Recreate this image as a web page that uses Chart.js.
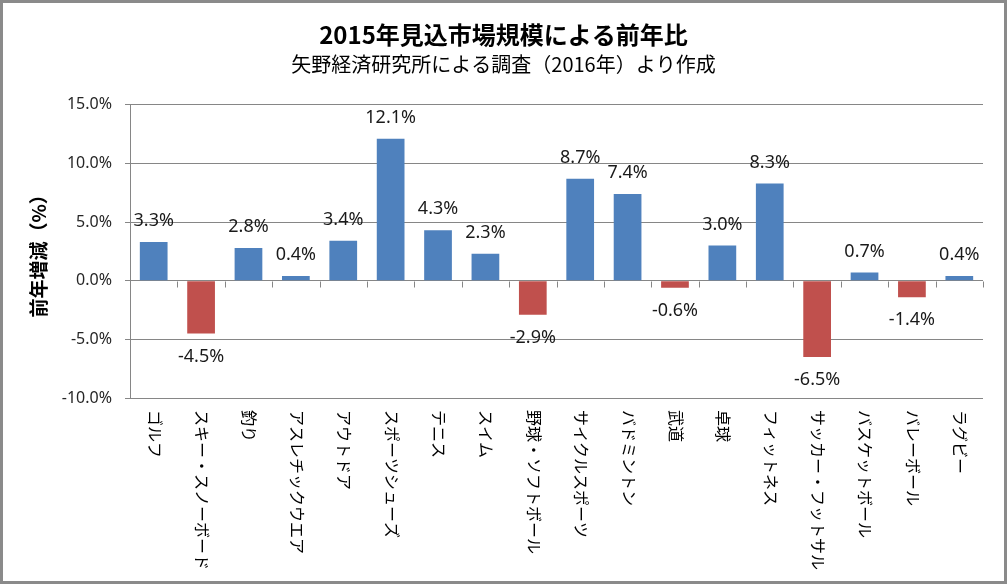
<!DOCTYPE html>
<html>
<head>
<meta charset="utf-8">
<script src="https://cdn.jsdelivr.net/npm/chart.js@4"></script>
<style>
  html, body { margin: 0; padding: 0; background: #fff; }
  #wrap { width: 1007px; height: 584px; }
</style>
</head>
<body>
<div id="wrap"><canvas id="c" width="1007" height="584"></canvas></div>
<script>
const titleText = '2015年見込市場規模による前年比';
const subtitleText = '矢野経済研究所による調査（2016年）より作成';
const yAxisTitle = '前年増減（%）';
const categories = ['ゴルフ','スキー・スノーボード','釣り','アスレチックウエア','アウトドア','スポーツシューズ','テニス','スイム','野球・ソフトボール','サイクルスポーツ','バドミントン','武道','卓球','フィットネス','サッカー・フットサル','バスケットボール','バレーボール','ラグビー'];
const changePct = [3.3, -4.5, 2.8, 0.4, 3.4, 12.1, 4.3, 2.3, -2.9, 8.7, 7.4, -0.6, 3.0, 8.3, -6.5, 0.7, -1.4, 0.4];
const yMin = -10, yMax = 15, yStep = 5;

const BLUE = '#4F81BD', RED = '#C0504D', GRID = '#868686';
const CJK = '"Noto Sans CJK JP", "Noto Sans", sans-serif';
const LATIN = '"Noto Sans", "Noto Sans CJK JP", sans-serif';

const framePlugin = {
  id: 'frame',
  beforeDraw(chart) {
    const c = chart.ctx;
    c.save();
    c.fillStyle = '#fff';
    c.fillRect(0, 0, chart.width, chart.height);
    c.restore();
  },
  afterDraw(chart) {
    const c = chart.ctx;
    c.save();
    c.strokeStyle = '#8a8a8a';
    c.lineWidth = 3;
    c.strokeRect(1.5, 1.5, chart.width - 3, chart.height - 3);
    c.restore();
  }
};

const axisExtras = {
  id: 'axisExtras',
  afterDatasetsDraw(chart) {
    const c = chart.ctx;
    const xs = chart.scales.x, ys = chart.scales.y;
    const y0 = ys.getPixelForValue(0);
    c.save();
    // tick marks at category boundaries on the zero line
    c.strokeStyle = GRID;
    c.lineWidth = 1;
    c.beginPath();
    for (let i = 0; i <= categories.length; i++) {
      const x = Math.round(xs.getPixelForValue(i - 0.5)) + 0.5;
      c.moveTo(x, Math.round(y0) + 0.5);
      c.lineTo(x, Math.round(y0) + 6.5);
    }
    c.stroke();
    // data labels
    const meta = chart.getDatasetMeta(0);
    c.fillStyle = '#1a1a1a';
    c.font = '18px ' + LATIN;
    c.textAlign = 'center';
    c.textBaseline = 'middle';
    meta.data.forEach((el, i) => {
      const v = changePct[i];
      const y = v >= 0 ? el.y - 21 : el.y + 23;
      c.fillText(v.toFixed(1) + '%', el.x, y);
    });
    // category labels, rotated clockwise
    c.font = '16px ' + CJK;
    c.fillStyle = '#000';
    c.textAlign = 'left';
    c.textBaseline = 'middle';
    categories.forEach((lab, i) => {
      const x = xs.getPixelForValue(i);
      c.save();
      c.translate(x + 1, ys.bottom + 12);
      c.rotate(Math.PI / 2);
      c.fillText(lab, 0, 0);
      c.restore();
    });
    c.restore();
  }
};

new Chart(document.getElementById('c'), {
  type: 'bar',
  data: {
    labels: categories,
    datasets: [{
      data: changePct,
      backgroundColor: (ctx) => (ctx.raw < 0 ? RED : BLUE),
      borderWidth: 0,
      barPercentage: 0.585,
      categoryPercentage: 1.0
    }]
  },
  options: {
    responsive: false,
    animation: false,
    devicePixelRatio: 1,
    layout: { padding: { left: 0, right: 0, top: 0, bottom: 0 } },
    plugins: {
      legend: { display: false },
      tooltip: { enabled: false },
      title: {
        display: true,
        text: titleText,
        color: '#000',
        font: { family: CJK, size: 24, weight: 'bold' },
        padding: { top: 20, bottom: 3 }
      },
      subtitle: {
        display: true,
        text: subtitleText,
        color: '#000',
        font: { family: CJK, size: 20, weight: 'normal' },
        padding: { top: 1, bottom: 28 }
      }
    },
    scales: {
      x: {
        type: 'category',
        ticks: { display: false },
        grid: { display: false },
        border: { display: false },
        afterFit(scale) { scale.height = 186; }
      },
      y: {
        min: yMin,
        max: yMax,
        ticks: {
          stepSize: yStep,
          padding: 13,
          color: '#262626',
          font: { family: LATIN, size: 16 },
          callback: (v) => Number(v).toFixed(1) + '%'
        },
        grid: { color: GRID, lineWidth: 1, tickLength: 5, drawTicks: true },
        border: { display: true, color: GRID, width: 1 },
        title: {
          display: true,
          text: yAxisTitle,
          color: '#000',
          font: { family: CJK, size: 19, weight: 'bold' },
          padding: { top: 27, bottom: 0 }
        },
        afterFit(scale) { scale.width = 130; }
      },
      spacer: {
        type: 'linear',
        position: 'right',
        display: true,
        ticks: { display: false },
        grid: { display: false, drawTicks: false },
        border: { display: false },
        afterFit(scale) { scale.width = 24; }
      }
    }
  },
  plugins: [framePlugin, axisExtras]
});
</script>
</body>
</html>
